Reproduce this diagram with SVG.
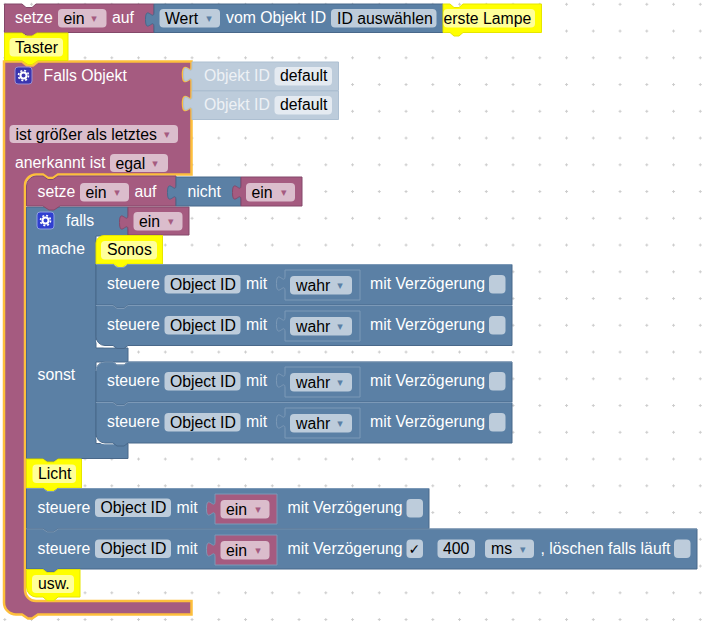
<svg xmlns="http://www.w3.org/2000/svg" width="702" height="625" viewBox="0 0 702 625">
<style>
text{font-family:"Liberation Sans",Arial,sans-serif;font-size:15.8px;fill:#fff}
text.d{fill:#000}
text.a{font-family:"DejaVu Sans",sans-serif;font-size:11px;text-anchor:middle}
.p{fill:#a55b80;stroke:#84496a;stroke-width:1}
.b{fill:#5b80a5;stroke:#49688a;stroke-width:1}
.y{fill:#ff0;stroke:#e6e600;stroke-width:1}
.l{fill:#bdccdb;stroke:#adbfd1;stroke-width:1}
.hb{fill:none;stroke:#7c99b7;stroke-width:1}
.fp{fill:#dbbdcc}
.fb{fill:#bdccdb}
.fy{fill:#ff9}
.fl{fill:#e4eaf1}
text.ap{fill:#a55b80}
text.ab{fill:#5b80a5}
.sl{fill:none;stroke:#fff;stroke-width:1.5}
.inb{stroke:#7c99b7}
</style>
<defs>
<pattern id="grid" patternUnits="userSpaceOnUse" x="-8.575" y="-9.075" width="26.75" height="26.75">
<path d="M11.875 13.375h3M13.375 11.875v3" stroke="#ccc" stroke-width="1" fill="none"/>
</pattern>
</defs>
<rect width="702" height="625" fill="#fff"/>
<rect width="702" height="625" fill="url(#grid)"/>

<g id="falls-objekt">
<path d="M4,61.500H22l5,4h6l5,-4H191.500V67c0,10 -8.500,-8 -8.500,7.500s8.500,-2.500 8.500,7.500V96c0,10 -8.500,-8 -8.500,7.500s8.500,-2.500 8.500,7.500V174.500H58l-5,3.500h-5l-5,-3.500H36a11,11 0 0 0 -11,11V590a11,11 0 0 0 11,11H191.500V614.500H38l-6,4h-4l-6,-4H16a12,12 0 0 1 -12,-12Z" fill="#a55b80" stroke="#fdbf3c" stroke-width="2.500"/>
<rect x="15" y="67" width="17" height="17" rx="3" fill="#3a35b0" stroke="#9a8fd0" stroke-width="1"/>
<circle cx="23.500" cy="75.500" r="3" fill="none" stroke="#fff" stroke-width="2"/>
<circle cx="23.500" cy="75.500" r="5" fill="none" stroke="#fff" stroke-width="1.600" stroke-dasharray="2 1.930"/>
<text x="43.500" y="81">Falls Objekt</text>
<rect class="fp" x="9.500" y="125" width="168.500" height="18" rx="4"/>
<text class="d" x="15.500" y="139.500">ist größer als letztes</text>
<text class="a ap" x="166.700" y="138">▾</text>
<text x="15" y="168">anerkannt ist</text>
<rect class="fp" x="110" y="154" width="58" height="18" rx="4"/>
<text class="d" x="115.500" y="168.500">egal</text>
<text class="a ap" x="155" y="167">▾</text>
</g>

<g id="objekt-id-1">
<path class="l" d="M192,62H338.500V90.500H192V82c0,-10 -8.500,8 -8.500,-7.500s8.500,2.500 8.500,-7.500Z"/>
<rect class="fl" x="274.500" y="67" width="57.500" height="18.500" rx="4"/>
<text x="204" y="81" style="fill:#edf1f5">Objekt ID</text>
<text class="d" x="280" y="81">default</text>
</g>
<g id="objekt-id-2">
<path class="l" d="M192,91H338.500V119.500H192V111c0,-10 -8.500,8 -8.500,-7.500s8.500,2.500 8.500,-7.500Z"/>
<rect class="fl" x="274.500" y="96" width="57.500" height="18.500" rx="4"/>
<text x="204" y="110" style="fill:#edf1f5">Objekt ID</text>
<text class="d" x="280" y="110">default</text>
</g>

<g id="setze-ein-top">
<path class="p" d="M4.500,4H22l4,3.500h6l4,-3.500H154V32.500H38l-6,3.500h-4l-6,-3.500H4.500Z"/>
<text x="15" y="23">setze</text>
<rect class="fp" x="58" y="9" width="48.500" height="18.500" rx="4"/>
<text class="d" x="63.500" y="23.500">ein</text>
<text class="a ap" x="94" y="22">▾</text>
<text x="112" y="23">auf</text>
</g>
<g id="wert-objekt-id">
<path class="b" d="M154,4H443V32.500H154V27c0,-10 -8.500,8 -8.500,-7.500s8.500,2.500 8.500,-7.500Z"/>
<rect class="fb" x="159.500" y="9" width="60.500" height="18.500" rx="4"/>
<text class="d" x="165" y="23.500">Wert</text>
<text class="a ab" x="209" y="22">▾</text>
<text x="226" y="23">vom Objekt ID</text>
<rect class="fb" x="331" y="9" width="105.500" height="18.500" rx="4"/>
<text class="d" x="337" y="23.500">ID auswählen</text>
</g>
<g id="erste-lampe">
<path class="y" d="M443,4H450l4,3.500h5l4,-3.500H541.500V32.500H463l-4,3.500h-5l-4,-3.500H443Z"/>
<rect class="fy" x="443.500" y="9" width="91.500" height="18.500" rx="4"/>
<text class="d" x="443.500" y="23.500">erste Lampe</text>
</g>
<g id="taster">
<path class="y" d="M4.500,33H22l4,3h6l5,-3H68V60.500H38l-6,4h-4l-6,-4H4.500Z"/>
<rect class="fy" x="9.500" y="38" width="53.500" height="18.500" rx="4"/>
<text class="d" x="15" y="52.500">Taster</text>
</g>

<g id="falls">
<path class="b" d="M26.500,207H128V236H96V348H128V362H96V443.500H128V458.500H58l-4,3h-7l-4,-3H26.500Z"/>
<rect x="37" y="212" width="17" height="17" rx="3" fill="#2f3fd0" stroke="#8ea0e0" stroke-width="1"/>
<circle cx="45.500" cy="220.500" r="3" fill="none" stroke="#fff" stroke-width="2"/>
<circle cx="45.500" cy="220.500" r="5" fill="none" stroke="#fff" stroke-width="1.600" stroke-dasharray="2 1.930"/>
<text x="66" y="226">falls</text>
<text x="37.500" y="254">mache</text>
<text x="37.500" y="380">sonst</text>
<path class="sl" d="M96.500,340a8,8 0 0 0 8,6.500H114"/>
<path class="sl" d="M96.500,437a8,8 0 0 0 8,6.500H114"/>
</g>
<g id="falls-ein">
<path class="p" d="M128,207H189V235H128V230c0,-10 -8.500,8 -8.500,-7.500s8.500,2.500 8.500,-7.500Z"/>
<rect class="fp" x="133.500" y="212" width="49" height="18.500" rx="4"/>
<text class="d" x="139" y="226.500">ein</text>
<text class="a ap" x="170.700" y="225">▾</text>
</g>

<g id="setze-ein-inner">
<path class="p" d="M36,176H43l5,3.500h5l5,-3.500H176V206H60l-6,4h-5l-6,-4H26.500V186a10,10 0 0 1 9.500,-10Z"/>
<text x="37.500" y="197">setze</text>
<rect class="fp" x="80" y="183" width="49" height="18.500" rx="4"/>
<text class="d" x="85.500" y="197.500">ein</text>
<text class="a ap" x="117" y="196">▾</text>
<text x="134.500" y="197">auf</text>
</g>
<g id="nicht">
<path class="b" d="M176,177H241V206H176V200c0,-10 -8.500,8 -8.500,-7.500s8.500,2.500 8.500,-7.500Z"/>
<text x="187.500" y="197">nicht</text>
</g>
<g id="nicht-ein">
<path class="p" d="M241,177H302V206H241V200c0,-10 -8.500,8 -8.500,-7.500s8.500,2.500 8.500,-7.500Z"/>
<rect class="fp" x="246" y="183" width="49" height="18.500" rx="4"/>
<text class="d" x="251.500" y="197.500">ein</text>
<text class="a ap" x="283.700" y="196">▾</text>
</g>

<g id="sonos">
<path class="y" d="M96,243a8,8 0 0 1 8,-7.500H162.500V264H127l-5,3.500h-3l-5,-3.500H96Z"/>
<rect class="fy" x="101" y="241" width="56" height="18.500" rx="4"/>
<text class="d" x="107" y="255">Sonos</text>
</g>

<g id="steuere-1">
<path class="b" d="M96,264.500H113l4,3h7l4,-3H512V305H128l-4,3h-7l-4,-3H96Z"/>
<path class="hb" d="M96,264.500H113l4,3h7l4,-3H512"/>
<text x="107" y="289">steuere</text>
<rect class="fb" x="164.500" y="275" width="76" height="18.500" rx="4"/>
<text class="d" x="170" y="289.500">Object ID</text>
<text x="246" y="289">mit</text>
<path class="b inb" d="M285,270H360V300H285V291c0,-10 -8.500,8 -8.500,-7.500s8.500,2.500 8.500,-7.500Z"/>
<rect class="fb" x="290" y="276" width="62" height="18.500" rx="4"/>
<text class="d" x="296" y="290.500">wahr</text>
<text class="a ab" x="340" y="289">▾</text>
<text x="370" y="289">mit Verzögerung</text>
<rect class="fb" x="489" y="275" width="16.500" height="18.500" rx="4"/>
</g>
<g id="steuere-2">
<path class="b" d="M96,305.500H113l4,3h7l4,-3H512V345.500H128l-4,3h-7l-4,-3H105a9,9 0 0 1 -9,-9Z"/>
<path class="hb" d="M96,305.500H113l4,3h7l4,-3H512"/>
<text x="107" y="330">steuere</text>
<rect class="fb" x="164.500" y="316" width="76" height="18.500" rx="4"/>
<text class="d" x="170" y="330.500">Object ID</text>
<text x="246" y="330">mit</text>
<path class="b inb" d="M285,311H360V341H285V332c0,-10 -8.500,8 -8.500,-7.500s8.500,2.500 8.500,-7.500Z"/>
<rect class="fb" x="290" y="317" width="62" height="18.500" rx="4"/>
<text class="d" x="296" y="331.500">wahr</text>
<text class="a ab" x="340" y="330">▾</text>
<text x="370" y="330">mit Verzögerung</text>
<rect class="fb" x="489" y="316" width="16.500" height="18.500" rx="4"/>
</g>
<g id="steuere-3">
<path class="b" d="M105,362H113l4,3h7l4,-3H512V402H128l-4,3h-7l-4,-3H96V371a9,9 0 0 1 9,-9Z"/>
<path class="hb" d="M96,371a9,9 0 0 1 9,-9H113l4,3h7l4,-3H512"/>
<text x="107" y="386">steuere</text>
<rect class="fb" x="164.500" y="372" width="76" height="18.500" rx="4"/>
<text class="d" x="170" y="386.500">Object ID</text>
<text x="246" y="386">mit</text>
<path class="b inb" d="M285,367H360V397H285V388c0,-10 -8.500,8 -8.500,-7.500s8.500,2.500 8.500,-7.500Z"/>
<rect class="fb" x="290" y="373" width="62" height="18.500" rx="4"/>
<text class="d" x="296" y="387.500">wahr</text>
<text class="a ab" x="340" y="386">▾</text>
<text x="370" y="386">mit Verzögerung</text>
<rect class="fb" x="489" y="372" width="16.500" height="18.500" rx="4"/>
</g>
<g id="steuere-4">
<path class="b" d="M96,402.500H113l4,3h7l4,-3H512V443H128l-4,3h-7l-4,-3H105a9,9 0 0 1 -9,-9Z"/>
<path class="hb" d="M96,402.500H113l4,3h7l4,-3H512"/>
<text x="107" y="427">steuere</text>
<rect class="fb" x="164.500" y="413" width="76" height="18.500" rx="4"/>
<text class="d" x="170" y="427.500">Object ID</text>
<text x="246" y="427">mit</text>
<path class="b inb" d="M285,408H360V438H285V429c0,-10 -8.500,8 -8.500,-7.500s8.500,2.500 8.500,-7.500Z"/>
<rect class="fb" x="290" y="414" width="62" height="18.500" rx="4"/>
<text class="d" x="296" y="428.500">wahr</text>
<text class="a ab" x="340" y="427">▾</text>
<text x="370" y="427">mit Verzögerung</text>
<rect class="fb" x="489" y="413" width="16.500" height="18.500" rx="4"/>
</g>

<g id="licht">
<path class="y" d="M26.500,459H43l4,3h7l4,-3H81.500V488H58l-4,3h-7l-4,-3H26.500Z"/>
<rect class="fy" x="32.500" y="464.500" width="43.500" height="18.500" rx="4"/>
<text class="d" x="38" y="479">Licht</text>
</g>
<g id="steuere-licht-1">
<path class="b" d="M26.500,488.500H43l4,3h7l4,-3H429V528.500H58l-4,3h-7l-4,-3H26.500Z"/>
<path class="hb" d="M26.500,488.500H43l4,3h7l4,-3H429"/>
<text x="37.500" y="513">steuere</text>
<rect class="fb" x="95" y="498.500" width="76" height="18.500" rx="4"/>
<text class="d" x="100.500" y="513">Object ID</text>
<text x="176.500" y="513">mit</text>
<path class="p inb" d="M215,494H277V524H215V516c0,-10 -8.500,8 -8.500,-7.500s8.500,2.500 8.500,-7.500Z"/>
<rect class="fp" x="220.500" y="500" width="49" height="18.500" rx="4"/>
<text class="d" x="226" y="514.500">ein</text>
<text class="a ap" x="258" y="513">▾</text>
<text x="287.500" y="513">mit Verzögerung</text>
<rect class="fb" x="406.500" y="499" width="16.500" height="18.500" rx="4"/>
</g>
<g id="steuere-licht-2">
<path class="b" d="M26.500,529H43l4,3h7l4,-3H697V569H58l-4,3h-7l-4,-3H26.500Z"/>
<path class="hb" d="M26.500,529H43l4,3h7l4,-3H697"/>
<text x="37.500" y="554">steuere</text>
<rect class="fb" x="95" y="539.500" width="76" height="18.500" rx="4"/>
<text class="d" x="100.500" y="554">Object ID</text>
<text x="176.500" y="554">mit</text>
<path class="p inb" d="M215,535H277V565H215V557c0,-10 -8.500,8 -8.500,-7.500s8.500,2.500 8.500,-7.500Z"/>
<rect class="fp" x="220.500" y="541" width="49" height="18.500" rx="4"/>
<text class="d" x="226" y="555.500">ein</text>
<text class="a ap" x="258" y="554">▾</text>
<text x="287.500" y="554">mit Verzögerung</text>
<rect class="fb" x="406.500" y="539.500" width="16.500" height="18.500" rx="4"/>
<text class="d" x="408.500" y="554" style="font-family:'DejaVu Sans',sans-serif;font-size:14px">✓</text>
<rect class="fb" x="437.500" y="539.500" width="37.500" height="18.500" rx="4"/>
<text class="d" x="443" y="554">400</text>
<rect class="fb" x="485" y="539.500" width="49" height="18.500" rx="4"/>
<text class="d" x="491" y="554">ms</text>
<text class="a ab" x="522.700" y="553">▾</text>
<text x="540.500" y="554">, löschen falls läuft</text>
<rect class="fb" x="674" y="539.500" width="16.500" height="18.500" rx="4"/>
</g>
<g id="usw">
<path class="y" d="M26.500,569.500H43l4,3h7l4,-3H80V597H58l-4,3.500h-7l-4,-3.500H36a10,10 0 0 1 -9.500,-10Z"/>
<rect class="fy" x="32" y="575" width="42" height="18" rx="4"/>
<text class="d" x="38" y="589">usw.</text>
</g>
</svg>
